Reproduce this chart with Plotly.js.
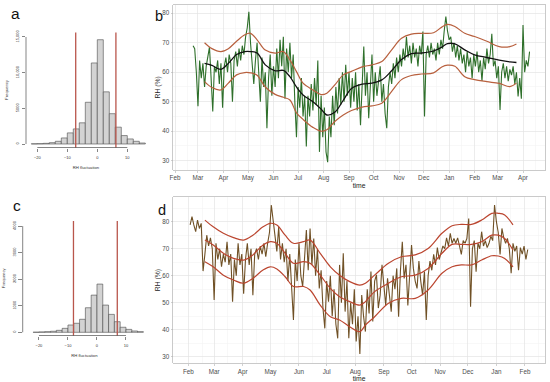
<!DOCTYPE html>
<html>
<head>
<meta charset="utf-8">
<script src="https://cdn.plot.ly/plotly-3.0.1.min.js"></script>
<style>html,body{margin:0;padding:0;background:#fff;}#chart{width:550px;height:382px;}</style>
</head>
<body>
<div id="chart"></div>
<script>
// ---------------- DATA ----------------
// Histograms (bin centres, bin width 2)
const histBins = [-21,-19,-17,-15,-13,-11,-9,-7,-5,-3,-1,1,3,5,7,9,11,13,15];
const aCounts = [30,50,95,190,380,850,1560,2120,2970,5850,11360,14620,7310,4250,2360,1180,710,380,140];
const cCounts = [5,15,25,40,75,150,275,340,490,925,1400,1815,1025,675,400,190,110,50,25];
const aLimits = [-7.2, 6.2];
const cLimits = [-8.1, 7.0];
const aYTicks = [0,5000,10000,15000];
const aYLabels = ['0','5000','10,000','15,000'];
const cYTicks = [0,1000,2000,3000,4000];
const cYLabels = ['0','1000','2000','3000','4000'];
const histXTicks = [-20,-10,0,10];

// Panel b: RH every 2 days starting 2018-02-23
const bStart = '2018-02-23';
const bStep = 2;
const bRH = [
69,68,60,48.5,64,58,63,55,62,66,
68.5,58,46.7,62,60,64,56,63,48,62,
65,60,66,63,50,64,67,62,68,64,
69,66,72,75,80.5,70,62,56,64,70,
60,50,65,55,60,41,58,66,52,62,
55,68,58,71,62,72,51,68,60,70,
58,66,50,38,55,48,58,45,52,34.8,
52,45,56,47,58,49,64,33,52,38,
48,33,29.5,45,38,52,42,55,46,58,
49,60,50,62.5,52,60,48,58,50,60,
47,56,42,58,68.7,52,60,44.4,58,66,
50,60,52,58,62,50,56,46,41,55,
60,56,63,58,65,60,66,62,68,64,
72,65,69,63,70,65,68,62,69,66,
73.8,45,66,69,65,70,66,68,64,70,
66,71,68,74,78.9,74,71,72,67,70,
65,69,64,68,63,66,60,67,62,65,
58,66,62,67,60,64,57,65,61,68,
63,66,73,62,64,58,62,47.2,60,63,
58,62,57,61,59,62,56,60,51.8,58,
51,76,60,64,62,67];
// Panel b: smoothed mean and limits (days since 2018-02-01)
const bBase = '2018-02-01';
const bBandDays = [36,45,56,65,75,85,92,100,110,122,132,140,148,156,168,178,185,195,205,215,228,240,252,264,276,288,300,315,325,332,341,353,365,380,395,408,416];
const bUpper = [70,68,67,68,70.5,72.7,73.2,71,67.5,66.5,67,64.2,60.2,56.3,54,52.4,52.9,55.8,59.1,60.3,61.8,62.5,63.6,67.6,71.5,72.9,73.2,73.4,75.3,76.2,75.5,73.2,72.1,70.5,68.7,68.7,69.6];
const bMean = [63,62.3,61,63,66,67,67,66.5,62.5,60.5,60.6,58.5,55,52.3,50,47.5,45.5,46.5,50.5,54.5,56,56.3,57.4,60.5,64.3,66.3,66.5,67.2,68.5,69.7,69.6,67.6,65.9,65,64.1,63.5,63.3];
const bLower = [56.8,54.8,54,56.3,59.1,59.9,59.8,59,55,52.5,51.5,50.6,46.2,44,41.3,40,40.5,43.4,45.5,47,48.2,48.6,49.5,53.5,57.5,58.9,59.4,59.8,61.8,62.4,62,58.5,57.5,56.8,56.2,55.1,56.3];

// Panel d: RH every 2 days starting 2017-02-03
const dStart = '2017-02-03';
const dStep = 2;
const dRH = [
78.8,81.9,78.8,76.3,80.6,77.5,79.4,61.7,68,75,
71,74,70,51,72,66,70,63.3,68,65,
72.6,64,68,50.4,66,60,72,64,68,53.3,
66,72,64,70,52.8,68,70,66,71,68,
72,67,72,76,86.2,80,75,69,78,66,
72,65,70,58,68,55,43.6,66,58,72,
60,56,66,76.9,62,77.5,64,73.8,60,70,
55.3,62,48,40.5,58,50.4,60,45,55,42,
36.8,64,50,68.3,46.7,58,36.8,50,42,55,
35.6,45,31,52.8,45,39.3,55,46,61.5,43,
58,60.3,48,52.8,64,55,49,59,53,46.7,
60,55,62.7,44.8,62,72.6,59,64,49,60,
71.4,62.7,58,55.3,65.4,58,52.8,61.5,43.6,60,
65.4,62,67.9,64,70.4,66,68.5,71,70,74,
71,75.7,72,73.8,72,74,71,67.9,73,72,
73.8,81.2,48.5,70,73,61.5,72,70,76.3,71,
73,70.4,72,74.6,73,86.2,80,76,67.9,77.5,
74,72,73.8,70,60.9,72,69,71,62,70.4,
68,71,66,69.7];
const dBase = '2017-02-01';
const dBandDays = [18,27,38,49,60,70,81,89,96,105,114,125,132,143,154,164,175,186,192,202,217,231,246,260,275,286,296,307,318,329,336,343,352];
const dUpper = [80.6,78.1,75.7,74.1,73.2,75,78.1,79.4,78.8,75,72,72.6,73.2,68.3,63.3,60.2,57.8,56.5,57.2,60.2,64.6,67,67.7,70.1,75.7,78.5,79,79,80.6,83.1,83.1,82.5,78.8];
const dMean = [73.2,71.4,68.3,66.4,65.8,67.7,71.4,72.6,72,68.3,64.6,65.2,64.6,60.2,55.3,52.2,50.4,49.1,50.4,54.1,57.2,59.6,60.2,62.7,68.3,71.6,71.6,71.6,72.6,75,75,73.8,69.5];
const dLower = [65.2,63.3,60.2,58.4,57.2,59,62.1,63.3,62.5,59.6,56,56,54.7,49.1,44.8,43.6,41.1,39.3,41.7,44.8,49.8,51.6,51.6,54.7,60.9,63.3,64,64,65.8,67.4,67.3,66.4,63.3];

// ---------------- HELPERS ----------------
function addDays(base, d){
  const t = Date.parse(base + 'T00:00:00Z') + d*86400000;
  return new Date(t).toISOString().slice(0,19).replace('T',' ');
}
function seriesDates(start, step, n){ const a=[]; for(let i=0;i<n;i++) a.push(addDays(start, i*step)); return a; }
const W=550, H=382;
const fx = p => p/W;
const fy = p => 1 - p/H;

const FONT = 'Liberation Sans, Arial, sans-serif';
const bLineCol = '#b8603e';
const dLineCol = '#bb4630';
const histRed = '#b9564c';

const bX = seriesDates(bStart, bStep, bRH.length);
const bBX = bBandDays.map(d => addDays(bBase, d));
const dX = seriesDates(dStart, dStep, dRH.length);
const dBX = dBandDays.map(d => addDays(dBase, d));

const traces = [
  {type:'bar', x:histBins, y:aCounts, width:2, xaxis:'x', yaxis:'y',
   marker:{color:'#d3d3d3', line:{color:'#4a4a4a', width:0.6}}, hoverinfo:'skip'},
  {type:'bar', x:histBins, y:cCounts, width:2, xaxis:'x3', yaxis:'y3',
   marker:{color:'#d3d3d3', line:{color:'#4a4a4a', width:0.6}}, hoverinfo:'skip'},
  {type:'scatter', mode:'lines', x:bX, y:bRH, xaxis:'x2', yaxis:'y2',
   line:{color:'rgba(24,96,20,0.9)', width:1.1}},
  {type:'scatter', mode:'lines', x:bBX, y:bUpper, xaxis:'x2', yaxis:'y2', line:{color:bLineCol, width:1.2, shape:'spline'}},
  {type:'scatter', mode:'lines', x:bBX, y:bLower, xaxis:'x2', yaxis:'y2', line:{color:bLineCol, width:1.2, shape:'spline'}},
  {type:'scatter', mode:'lines', x:bBX, y:bMean, xaxis:'x2', yaxis:'y2', line:{color:'#111', width:1.3, shape:'spline'}},
  {type:'scatter', mode:'lines', x:dX, y:dRH, xaxis:'x4', yaxis:'y4',
   line:{color:'rgba(100,66,20,0.92)', width:1.1}},
  {type:'scatter', mode:'lines', x:dBX, y:dUpper, xaxis:'x4', yaxis:'y4', line:{color:dLineCol, width:1.2, shape:'spline'}},
  {type:'scatter', mode:'lines', x:dBX, y:dMean, xaxis:'x4', yaxis:'y4', line:{color:dLineCol, width:1.2, shape:'spline'}},
  {type:'scatter', mode:'lines', x:dBX, y:dLower, xaxis:'x4', yaxis:'y4', line:{color:dLineCol, width:1.2, shape:'spline'}}
];

function histX(domain, range, anchor){
  return {domain:domain, range:range, anchor:anchor, tickvals:histXTicks, ticks:'outside', ticklen:3.5, tickwidth:0.6,
    tickcolor:'#333', tickfont:{size:4, color:'#333', family:FONT}, ticklabelstandoff:2, showgrid:false, zeroline:false, showline:false,
    title:{text:'RH fluctuation', font:{size:4.2, color:'#333', family:FONT}, standoff:7}};
}
function histY(domain, range, anchor, vals, labels){
  return {domain:domain, range:range, anchor:anchor, tickvals:vals, ticktext:labels, tickangle:-90, ticks:'outside', ticklen:3.5,
    tickwidth:0.6, tickcolor:'#333', tickfont:{size:4, color:'#333', family:FONT}, ticklabelstandoff:1, showgrid:false, zeroline:false, showline:false,
    title:{text:'Frequency', font:{size:4.2, color:'#333', family:FONT}, standoff:6}};
}
function ggX(domain, range, anchor, tick0, minor0){
  return {domain:domain, range:range, anchor:anchor, type:'date', tickformat:'%b', dtick:'M1', tick0:tick0,
    ticks:'outside', ticklen:2, tickwidth:0.6, tickcolor:'#b3b3b3', tickfont:{size:6.3, color:'#4d4d4d', family:FONT},
    showgrid:true, gridcolor:'#e4e4e4', gridwidth:0.7, zeroline:false, showline:true, mirror:true, linecolor:'#bdbdbd', linewidth:0.8,
    minor:{dtick:'M1', tick0:minor0, showgrid:true, gridcolor:'#f1f1f1', gridwidth:0.5, ticks:''},
    title:{text:'time', font:{size:6.8, color:'#222', family:FONT}, standoff:0}};
}
function ggY(domain, range, anchor){
  return {domain:domain, range:range, anchor:anchor, dtick:10, tick0:0, ticks:'outside', ticklen:2, tickwidth:0.6,
    tickcolor:'#b3b3b3', tickfont:{size:6.3, color:'#4d4d4d', family:FONT},
    showgrid:true, gridcolor:'#e4e4e4', gridwidth:0.7, zeroline:false, showline:true, mirror:true, linecolor:'#bdbdbd', linewidth:0.8,
    minor:{dtick:10, tick0:5, showgrid:true, gridcolor:'#f1f1f1', gridwidth:0.5, ticks:''},
    title:{text:'RH (%)', font:{size:6.8, color:'#222', family:FONT}, standoff:0}};
}

const shapes = [];
aLimits.forEach(v => shapes.push({type:'line', xref:'x', yref:'y domain', x0:v, x1:v, y0:0, y1:1, line:{color:histRed, width:1.3}}));
cLimits.forEach(v => shapes.push({type:'line', xref:'x3', yref:'y3 domain', x0:v, x1:v, y0:0, y1:1, line:{color:histRed, width:1.3}}));
// R-style axis lines spanning first to last tick
shapes.push({type:'line', xref:'x domain', yref:'y', x0:0, x1:0, y0:aYTicks[0], y1:aYTicks[aYTicks.length-1], line:{color:'#333', width:0.6}});
shapes.push({type:'line', xref:'x', yref:'y domain', x0:histXTicks[0], x1:histXTicks[histXTicks.length-1], y0:0, y1:0, line:{color:'#333', width:0.6}});
shapes.push({type:'line', xref:'x3 domain', yref:'y3', x0:0, x1:0, y0:cYTicks[0], y1:cYTicks[cYTicks.length-1], line:{color:'#333', width:0.6}});
shapes.push({type:'line', xref:'x3', yref:'y3 domain', x0:histXTicks[0], x1:histXTicks[histXTicks.length-1], y0:0, y1:0, line:{color:'#333', width:0.6}});

const letters = [['a',15,14,15.5],['b',158.5,16.5,14.5],['c',16.5,206,15.5],['d',162,210,14.5]];
const annotations = letters.map(l => ({text:l[0], xref:'paper', yref:'paper', x:fx(l[1]), y:fy(l[2]), xanchor:'center', yanchor:'middle',
  showarrow:false, font:{size:l[3], color:'#111', family:FONT}}));

const layout = {
  width:W, height:H, margin:{l:0,r:0,t:0,b:0}, paper_bgcolor:'#fff', plot_bgcolor:'rgba(0,0,0,0)', showlegend:false,
  font:{family:FONT},
  xaxis: histX([fx(26), fx(146)], [-23.77, 16.23], 'y'),
  yaxis: histY([fy(147.5), fy(32.5)], [-490, 15630], 'x', aYTicks, aYLabels),
  xaxis3: histX([fx(22.7), fx(146)], [-25.6, 16.9], 'y3'),
  yaxis3: histY([fy(335.5), fy(221)], [-120, 4190], 'x3', cYTicks, cYLabels),
  xaxis2: ggX([fx(173.3), fx(545)], [addDays('2018-02-01', -2.07), addDays('2018-02-01', 450.8)], 'y2', '2018-02-01', '2018-01-16'),
  yaxis2: ggY([fy(170), fy(4.7)], [26.85, 82.9], 'x2'),
  xaxis4: ggX([fx(173.3), fx(545)], [addDays('2017-02-01', -16.26), addDays('2017-02-01', 386.7)], 'y4', '2017-02-01', '2017-01-16'),
  yaxis4: ggY([fy(363.3), fy(196.7)], [27.55, 89.26], 'x4'),
  shapes: shapes,
  annotations: annotations
};

Plotly.newPlot('chart', traces, layout, {staticPlot:true, displayModeBar:false});
</script>
</body>
</html>
